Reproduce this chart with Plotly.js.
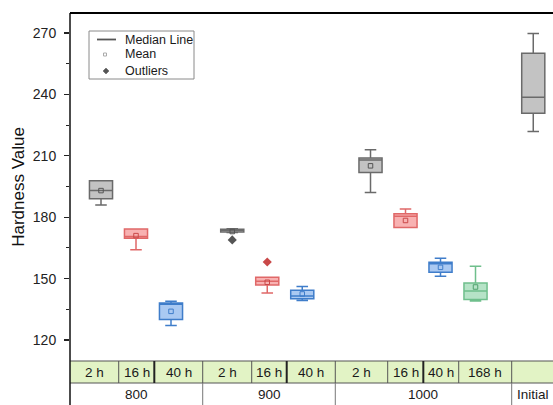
<!DOCTYPE html>
<html>
<head>
<meta charset="utf-8">
<script src="https://cdn.plot.ly/plotly-3.0.1.min.js"></script>
<style>html,body{margin:0;padding:0;background:#fff;}#chart{width:553px;height:405px;}</style>
</head>
<body>
<div id="chart"></div>
<script>
// ---------- DATA ----------
var temperatures = ['800', '800', '800', '900', '900', '900', '1000', '1000', '1000', '1000', 'Initial'];
var durations    = ['2 h', '16 h', '40 h', '2 h', '16 h', '40 h', '2 h', '16 h', '40 h', '168 h', ''];
var q1Values     = [189.0, 169.7, 130.0, 172.8, 146.9, 140.1, 201.9, 175.0, 153.1, 139.8, 230.8];
var medianValues = [193.1, 170.6, 137.5, 173.7, 148.7, 141.5, 208.0, 180.5, 157.2, 144.0, 238.6];
var q3Values     = [197.8, 174.2, 138.1, 174.1, 150.6, 144.3, 208.9, 181.7, 158.0, 147.9, 260.1];
var lowerValues  = [186.0, 164.1, 127.1, 172.5, 143.0, 139.3, 192.1, 175.0, 151.1, 139.1, 221.9];
var upperValues  = [197.8, 174.2, 138.9, 174.3, 150.6, 146.1, 212.9, 184.0, 159.9, 156.0, 269.8];
var meanValues   = [193.0, 171.0, 134.0, 173.0, 148.2, 142.5, 205.1, 178.4, 155.5, 145.9, null];
var outlierIndex  = [3, 4];
var outlierValues = [168.9, 158.1];
var yTicks = [120, 150, 180, 210, 240, 270];

// ---------- LAYOUT CONSTANTS ----------
var xPos = [1, 2, 3, 4.75, 5.75, 6.75, 8.7, 9.7, 10.7, 11.7, 13.35];
var cellEdges = [0.1143, 1.506, 2.523, 3.906, 5.306, 6.306, 7.694, 9.191, 10.209, 11.22, 12.734, 14.5];
var thickEdges = [2.523, 6.306, 10.209];
var xRange = [0.1143, 13.914];
var yRange = [109.74, 279.77];
var W = 553, H = 405, ML = 70, MT = 13, MB = 44;
var PW = W - ML, PH = H - MT - MB;

var styles = {
  '2 h':   {line: '#6a6a6a', fill: '#c3c3c3', mean: '#555555'},
  '':      {line: '#6a6a6a', fill: '#c3c3c3', mean: '#555555'},
  '16 h':  {line: '#e06868', fill: '#f8b2b2', mean: '#c94848'},
  '40 h':  {line: '#3f7dca', fill: '#aac9f2', mean: '#3f7dca'},
  '168 h': {line: '#6fbf8c', fill: '#b6e3c7', mean: '#4fa06c'}
};
var FONT = 'Liberation Sans, Arial, sans-serif';

function xp(v) { return (v - xRange[0]) / (xRange[1] - xRange[0]); }
function pxX(px) { return (px - ML) / PW; }
function pxY(py) { return (H - MB - py) / PH; }

// ---------- TRACES ----------
var traces = [];
var keys = ['2 h', '16 h', '40 h', '168 h', ''];
keys.forEach(function (k) {
  var idx = [];
  durations.forEach(function (d, i) { if (d === k) idx.push(i); });
  if (!idx.length) return;
  var pick = function (arr) { return idx.map(function (i) { return arr[i]; }); };
  traces.push({
    type: 'box',
    x: pick(xPos),
    q1: pick(q1Values), median: pick(medianValues), q3: pick(q3Values),
    lowerfence: pick(lowerValues), upperfence: pick(upperValues),
    width: 0.66, whiskerwidth: 0.5,
    line: {color: styles[k].line, width: 1.5},
    fillcolor: styles[k].fill,
    boxpoints: false, hoverinfo: 'skip', showlegend: false
  });
  var mx = [], my = [];
  idx.forEach(function (i) { if (meanValues[i] !== null) { mx.push(xPos[i]); my.push(meanValues[i]); } });
  traces.push({
    type: 'scatter', mode: 'markers', x: mx, y: my,
    marker: {symbol: 'square-open', size: 4.5, color: styles[k].mean, line: {width: 1}},
    hoverinfo: 'skip', showlegend: false, cliponaxis: false
  });
});
traces.push({
  type: 'scatter', mode: 'markers',
  x: outlierIndex.map(function (i) { return xPos[i]; }),
  y: outlierValues,
  marker: {symbol: 'diamond', size: 7,
           color: outlierIndex.map(function (i) { return styles[durations[i]].mean; })},
  hoverinfo: 'skip', showlegend: false
});

// ---------- SHAPES / ANNOTATIONS ----------
var shapes = [], annotations = [];
var rowTop = 0, rowMid = pxY(383), rowBot = pxY(410);

shapes.push({type: 'rect', xref: 'paper', yref: 'paper', x0: 0, x1: 1.01, y0: rowMid, y1: rowTop,
  fillcolor: '#e2f3c5', line: {width: 0}, layer: 'above'});
shapes.push({type: 'line', xref: 'paper', yref: 'paper', x0: 0, x1: 1.01, y0: rowTop, y1: rowTop,
  line: {color: '#555', width: 1.2}});
shapes.push({type: 'line', xref: 'paper', yref: 'paper', x0: 0, x1: 1.01, y0: rowMid, y1: rowMid,
  line: {color: '#555', width: 1}});
cellEdges.forEach(function (e, i) {
  if (i === 0 || i === cellEdges.length - 1) return;
  var thick = thickEdges.indexOf(e) >= 0;
  shapes.push({type: 'line', xref: 'paper', yref: 'paper', x0: xp(e), x1: xp(e), y0: rowMid, y1: rowTop,
    line: {color: thick ? '#222' : '#555', width: thick ? 2 : 1}});
});
var groupEdges = [];
temperatures.forEach(function (t, i) {
  if (i > 0 && t !== temperatures[i - 1]) groupEdges.push(cellEdges[i]);
});
groupEdges.forEach(function (e) {
  shapes.push({type: 'line', xref: 'paper', yref: 'paper', x0: xp(e), x1: xp(e), y0: rowBot, y1: rowMid,
    line: {color: '#777', width: 1}});
});
shapes.push({type: 'line', xref: 'paper', yref: 'paper', x0: 0, x1: 0, y0: rowBot, y1: 1,
  line: {color: '#111', width: 1.5}});
shapes.push({type: 'line', xref: 'paper', yref: 'paper', x0: 0, x1: 1.01, y0: 1, y1: 1,
  line: {color: '#000', width: 2.2}});

durations.forEach(function (d, i) {
  if (!d) return;
  annotations.push({xref: 'paper', yref: 'paper', x: xp((cellEdges[i] + cellEdges[i + 1]) / 2),
    y: (rowTop + rowMid) / 2, text: d, showarrow: false, xanchor: 'center', yanchor: 'middle',
    font: {family: FONT, size: 13.5, color: '#1a1a1a'}});
});
var seen = {};
temperatures.forEach(function (t, i) {
  if (seen[t]) return; seen[t] = true;
  var first = i, last = i;
  temperatures.forEach(function (t2, j) { if (t2 === t) last = j; });
  var cx = t === 'Initial' ? xPos[i] : (cellEdges[first] + cellEdges[last + 1]) / 2;
  annotations.push({xref: 'paper', yref: 'paper', x: xp(cx), y: pxY(394), text: t, showarrow: false,
    xanchor: 'center', yanchor: 'middle', font: {family: FONT, size: 13.5, color: '#1a1a1a'}});
});

// legend
shapes.push({type: 'rect', xref: 'paper', yref: 'paper', x0: pxX(89), x1: pxX(194), y0: pxY(79), y1: pxY(31),
  line: {color: '#8a8a8a', width: 1}, fillcolor: 'rgba(255,255,255,0)'});
shapes.push({type: 'line', xref: 'paper', yref: 'paper', x0: pxX(97), x1: pxX(116), y0: pxY(39.5), y1: pxY(39.5),
  line: {color: '#555', width: 1.8}});
shapes.push({type: 'rect', xref: 'paper', yref: 'paper', x0: pxX(103.5), x1: pxX(106.5), y0: pxY(56), y1: pxY(53),
  line: {color: '#aaa', width: 1}});
shapes.push({type: 'path', xref: 'paper', yref: 'paper',
  path: 'M' + pxX(106) + ',' + pxY(68) + ' L' + pxX(109) + ',' + pxY(71) + ' L' + pxX(106) + ',' + pxY(74) +
        ' L' + pxX(103) + ',' + pxY(71) + ' Z',
  fillcolor: '#555', line: {color: '#555', width: 0.5}});
[['Median Line', 39.5], ['Mean', 54.5], ['Outliers', 70.5]].forEach(function (it) {
  annotations.push({xref: 'paper', yref: 'paper', x: pxX(123), y: pxY(it[1]), text: it[0], showarrow: false,
    xanchor: 'left', yanchor: 'middle', font: {family: FONT, size: 12.5, color: '#1a1a1a'}});
});

var layout = {
  width: W, height: H,
  margin: {l: ML, r: 0, t: MT, b: MB, pad: 0},
  paper_bgcolor: '#fff', plot_bgcolor: '#fff',
  showlegend: false, boxmode: 'overlay',
  xaxis: {range: xRange, showticklabels: false, ticks: '', showgrid: false, zeroline: false,
          showline: false, fixedrange: true},
  yaxis: {range: yRange, tickvals: yTicks, ticktext: yTicks.map(String), ticks: 'outside', ticklen: 5,
          tickwidth: 1.2, tickcolor: '#222', showgrid: false, zeroline: false, showline: false,
          ticklabelstandoff: 5,
          minor: {tickvals: [135, 165, 195, 225, 255], ticks: 'outside', ticklen: 3, tickcolor: '#222', tickwidth: 1},
          tickfont: {family: FONT, size: 14, color: '#222'},
          title: {text: 'Hardness Value', font: {family: FONT, size: 17, color: '#111'}, standoff: 3}},
  shapes: shapes, annotations: annotations, font: {family: FONT}
};

Plotly.newPlot('chart', traces, layout, {staticPlot: true, displayModeBar: false});
</script>
</body>
</html>
